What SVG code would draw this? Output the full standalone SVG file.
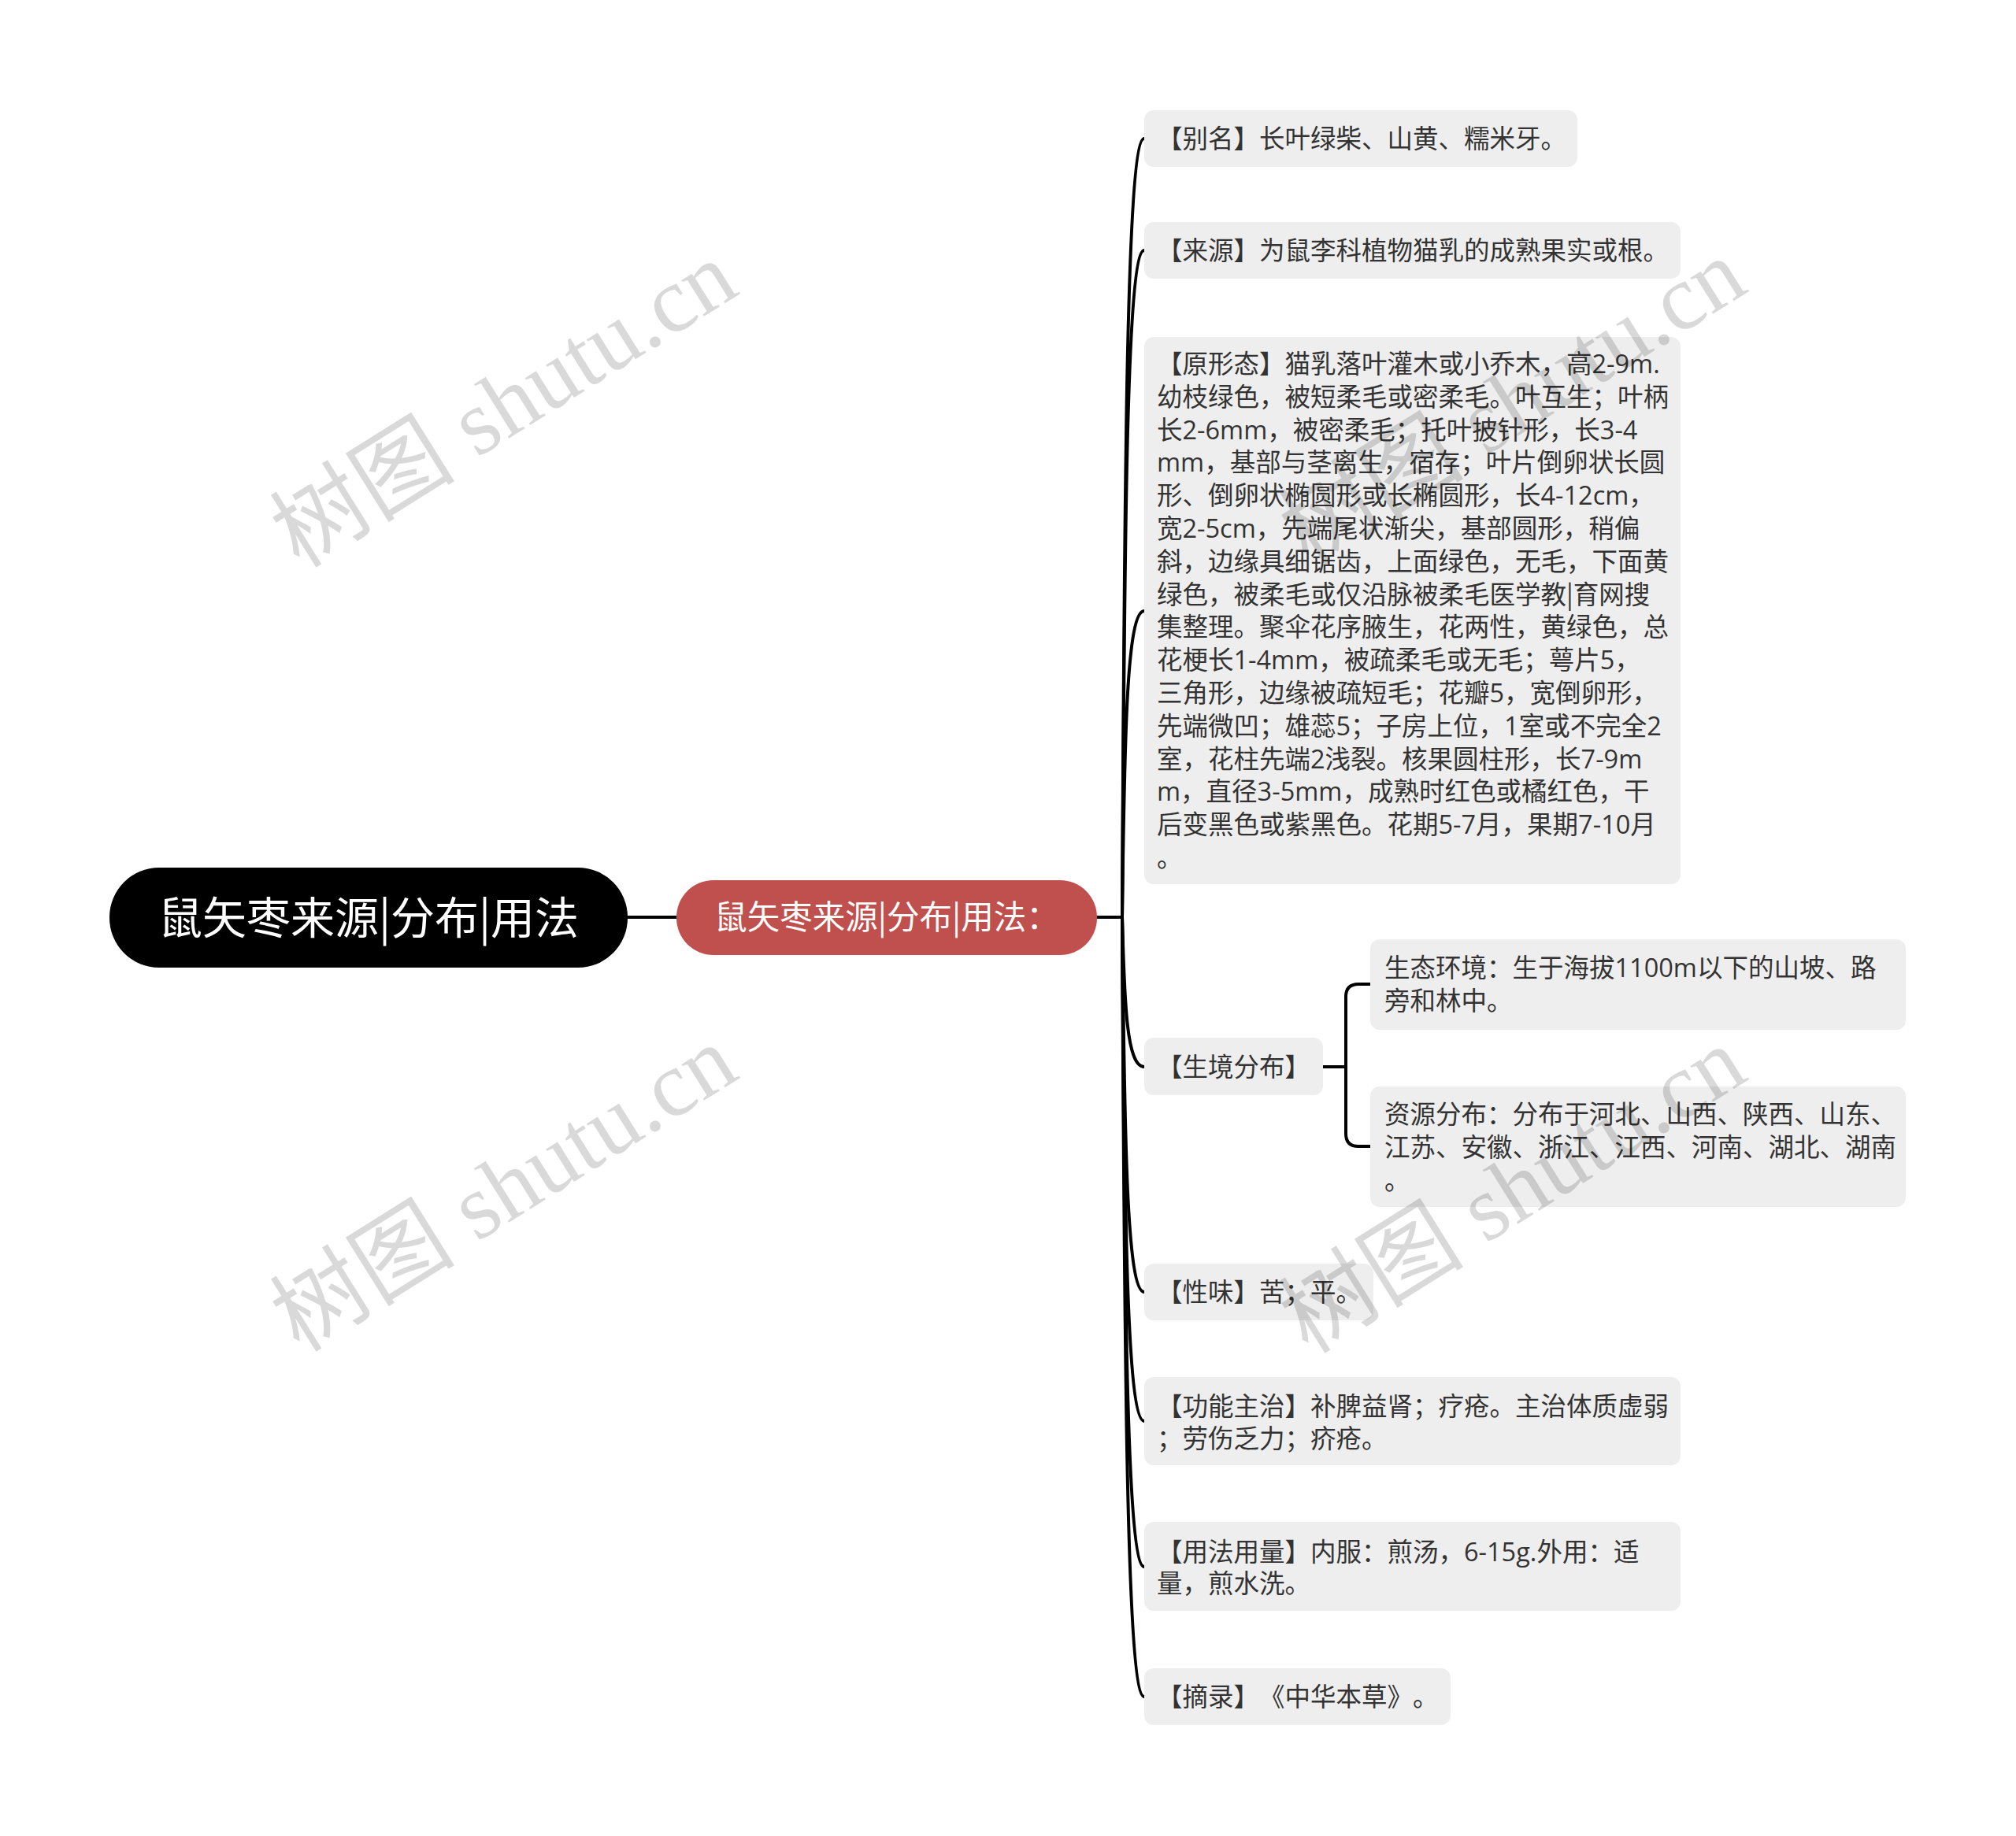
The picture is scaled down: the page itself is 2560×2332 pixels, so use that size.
<svg xmlns="http://www.w3.org/2000/svg" width="2560" height="2332" viewBox="0 0 2560 2332">
<style>
.box{fill:#eeeeee}
.t{font-family:"Open Sans","Noto Sans CJK SC",sans-serif;font-size:32.5px;fill:#333333;text-spacing-trim:space-all}
.h{font-family:"Noto Sans CJK SC",sans-serif;fill:#ffffff;text-spacing-trim:space-all}
.p{font-family:"Noto Sans CJK SC",sans-serif}
.conn{fill:none;stroke:#000000;stroke-width:4;stroke-linecap:round}
.wm{font-family:"Liberation Serif","Noto Sans CJK SC",serif;font-size:118px;fill:#000000;fill-opacity:0.15}
</style>
<rect width="2560" height="2332" fill="#ffffff"/>
<g id="connectors">
<path class="conn" d="M797 1165 L859 1165"/>
<path class="conn" d="M1393 1165 L1425 1165"/>
<path class="conn" d="M1425 1165 C1428 576 1431 176 1453 176"/>
<path class="conn" d="M1425 1165 C1428 661 1431 318 1453 318"/>
<path class="conn" d="M1425 1165 C1428 929 1431 776 1453 776"/>
<path class="conn" d="M1425 1165 C1428 1279 1431 1355 1453 1355"/>
<path class="conn" d="M1425 1165 C1428 1453 1431 1641 1453 1641"/>
<path class="conn" d="M1425 1165 C1428 1549 1431 1805 1453 1805"/>
<path class="conn" d="M1425 1165 C1428 1659 1431 1990 1453 1990"/>
<path class="conn" d="M1425 1165 C1428 1758 1431 2155 1453 2155"/>
<path class="conn" d="M1680 1355 L1709 1355"/>
<path class="conn" d="M1740 1250 L1725 1250 Q1709 1250 1709 1266 L1709 1440 Q1709 1456 1725 1456 L1740 1456"/>
</g>
<g id="root">
<rect x="139" y="1102" width="658" height="127" rx="63" fill="#000000"/>
<text class="h" x="468" y="1186" text-anchor="middle" font-size="56">鼠矢枣来源|分布|用法</text>
</g>
<g id="main">
<rect x="859" y="1118" width="534" height="95" rx="47" fill="#c0504d"/>
<text class="h" x="1126" y="1180" text-anchor="middle" font-size="41.5">鼠矢枣来源|分布|用法：</text>
</g>
<g id="n-bieming">
<rect class="box" x="1453" y="140" width="550" height="72" rx="12"/>
<text class="t" x="1469" y="188">【别名】长叶绿柴、山黄、糯米牙。</text>
</g>
<g id="n-laiyuan">
<rect class="box" x="1453" y="282" width="681" height="72" rx="12"/>
<text class="t" x="1469" y="330">【来源】为鼠李科植物猫乳的成熟果实或根。</text>
</g>
<g id="n-yuanxingtai">
<rect class="box" x="1453" y="428" width="681" height="695" rx="12"/>
<text class="t">
<tspan x="1469" y="474">【原形态】猫乳落叶灌木或小乔木，高2-9m.</tspan>
<tspan x="1469" y="516">幼枝绿色，被短柔毛或密柔毛。叶互生；叶柄</tspan>
<tspan x="1469" y="558">长2-6mm，被密柔毛；托叶披针形，长3-4</tspan>
<tspan x="1469" y="599">mm，基部与茎离生，宿存；叶片倒卵状长圆</tspan>
<tspan x="1469" y="641">形、倒卵状椭圆形或长椭圆形，长4-12cm，</tspan>
<tspan x="1469" y="683">宽2-5cm，先端尾状渐尖，基部圆形，稍偏</tspan>
<tspan x="1469" y="725">斜，边缘具细锯齿，上面绿色，无毛，下面黄</tspan>
<tspan x="1469" y="767">绿色，被柔毛或仅沿脉被柔毛医学教<tspan class="p">|</tspan>育网搜</tspan>
<tspan x="1469" y="808">集整理。聚伞花序腋生，花两性，黄绿色，总</tspan>
<tspan x="1469" y="850">花梗长1-4mm，被疏柔毛或无毛；萼片5，</tspan>
<tspan x="1469" y="892">三角形，边缘被疏短毛；花瓣5，宽倒卵形，</tspan>
<tspan x="1469" y="934">先端微凹；雄蕊5；子房上位，1室或不完全2</tspan>
<tspan x="1469" y="976">室，花柱先端2浅裂。核果圆柱形，长7-9m</tspan>
<tspan x="1469" y="1017">m，直径3-5mm，成熟时红色或橘红色，干</tspan>
<tspan x="1469" y="1059">后变黑色或紫黑色。花期5-7月，果期7-10月</tspan>
<tspan x="1469" y="1101">。</tspan>
</text>
</g>
<g id="n-shengjing">
<rect class="box" x="1453" y="1318" width="227" height="73" rx="12"/>
<text class="t" x="1469" y="1367">【生境分布】</text>
</g>
<g id="n-shengtai">
<rect class="box" x="1740" y="1193" width="680" height="115" rx="12"/>
<text class="t">
<tspan x="1758" y="1241">生态环境：生于海拔1100m以下的山坡、路</tspan>
<tspan x="1758" y="1283">旁和林中。</tspan>
</text>
</g>
<g id="n-ziyuan">
<rect class="box" x="1740" y="1380" width="680" height="153" rx="12"/>
<text class="t">
<tspan x="1758" y="1427">资源分布：分布于河北、山西、陕西、山东、</tspan>
<tspan x="1758" y="1469">江苏、安徽、浙江、江西、河南、湖北、湖南</tspan>
<tspan x="1758" y="1511">。</tspan>
</text>
</g>
<g id="n-xingwei">
<rect class="box" x="1453" y="1605" width="291" height="72" rx="12"/>
<text class="t" x="1469" y="1653">【性味】苦；平。</text>
</g>
<g id="n-gongneng">
<rect class="box" x="1453" y="1749" width="681" height="112" rx="12"/>
<text class="t">
<tspan x="1469" y="1798">【功能主治】补脾益肾；疗疮。主治体质虚弱</tspan>
<tspan x="1469" y="1839">；劳伤乏力；疥疮。</tspan>
</text>
</g>
<g id="n-yongfa">
<rect class="box" x="1453" y="1933" width="681" height="113" rx="12"/>
<text class="t">
<tspan x="1469" y="1983">【用法用量】内服：煎汤，6-15g.外用：适</tspan>
<tspan x="1469" y="2023">量，煎水洗。</tspan>
</text>
</g>
<g id="n-zhailu">
<rect class="box" x="1453" y="2119" width="389" height="72" rx="12"/>
<text class="t" x="1469" y="2167">【摘录】《中华本草》。</text>
</g>
<g id="watermarks">
<text class="wm" x="640" y="514" text-anchor="middle" dominant-baseline="central" transform="rotate(-32 640 514)">树图 shutu.cn</text>
<text class="wm" x="640" y="1510" text-anchor="middle" dominant-baseline="central" transform="rotate(-32 640 1510)">树图 shutu.cn</text>
<text class="wm" x="1921" y="511" text-anchor="middle" dominant-baseline="central" transform="rotate(-32 1921 511)">树图 shutu.cn</text>
<text class="wm" x="1921" y="1512" text-anchor="middle" dominant-baseline="central" transform="rotate(-32 1921 1512)">树图 shutu.cn</text>
</g>
</svg>
